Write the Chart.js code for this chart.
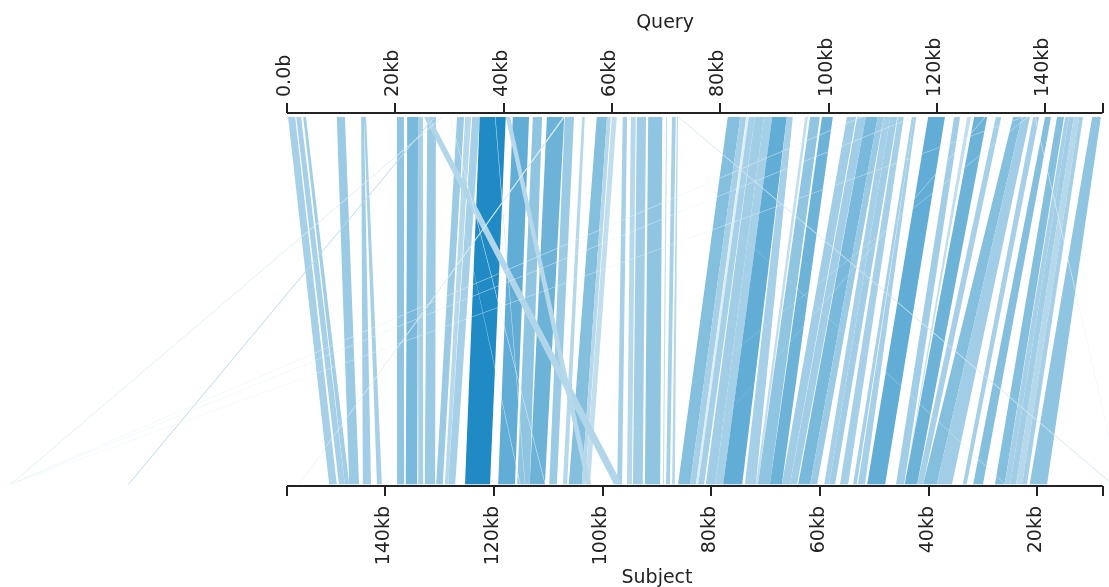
<!DOCTYPE html>
<html>
<head>
<meta charset="utf-8">
<title>Query vs Subject</title>
<script src="https://cdn.jsdelivr.net/npm/chart.js@4"></script>
<style>
  html, body { margin: 0; padding: 0; background: #fff; }
  canvas { display: block; }
</style>
</head>
<body>
<canvas id="chart" width="1109" height="587"></canvas>
<script>
// alignment blocks, all in kb
const queryStart = [
  0.2, 1.7, 3.0, 9.2, 13.7, 14.2, 20.3, 22.2, 24.2, 25.9,
  31.4, 32.9, 34.2, 35.6, 41.7, 45.4, 48.0, 51.3, 54.5, 57.2,
  59.1, 60.0, 62.0, 63.5, 64.6, 66.7, 70.0, 71.1, 72.0, 81.4,
  83.7, 84.9, 85.3, 86.4, 88.1, 89.6, 92.3, 95.7, 96.6, 98.8,
  103.4, 105.3, 106.9, 109.1, 110.2, 111.4, 112.8, 115.4, 115.8, 118.4,
  123.2, 125.6, 126.9, 130.9, 134.1, 135.7, 137.8, 140.0, 142.2, 143.7,
  144.4, 145.3, 146.3, 148.7, 25.3, 40.4, 28.6, 27.1, 106.0, 115.6,
  135.9, 51.0, 72.2, 62.8, 104.0, 138.1, 136.8, 60.6, 28.3, 30.1,
  38.4, 128.9
];
const queryEnd = [
  1.5, 2.6, 3.5, 10.7, 14.2, 14.6, 21.6, 24.2, 25.1, 27.5,
  32.7, 34.0, 35.6, 40.4, 44.7, 47.1, 51.2, 53.0, 55.0, 59.1,
  59.8, 60.9, 62.8, 64.4, 66.3, 69.3, 70.2, 71.8, 72.2, 83.7,
  84.8, 85.3, 86.4, 88.1, 89.6, 92.3, 93.4, 96.2, 98.4, 100.8,
  105.1, 106.9, 109.1, 110.2, 111.4, 112.7, 113.9, 115.8, 116.2, 121.5,
  124.3, 126.3, 129.3, 131.9, 135.7, 137.2, 138.9, 141.1, 143.5, 144.4,
  145.3, 146.3, 147.0, 150.3, 26.4, 41.2, 28.8, 27.3, 106.2, 115.8,
  136.1, 51.3, 72.4, 62.9, 104.1, 138.2, 136.9, 60.7, 28.4, 30.2,
  38.5, 129.0
];
const subjectStart = [
  150.3, 148.5, 147.4, 146.6, 144.1, 141.5, 137.8, 136.2, 133.9, 132.7,
  130.6, 129.0, 128.4, 125.3, 119.2, 115.7, 113.4, 109.8, 107.3, 106.2,
  103.8, 103.2, 97.3, 95.5, 94.4, 92.2, 88.9, 88.3, 87.2, 86.1,
  83.9, 82.8, 82.4, 81.0, 79.3, 77.8, 73.8, 71.8, 71.4, 69.2,
  67.0, 65.5, 64.0, 61.8, 59.2, 58.3, 56.3, 53.9, 53.0, 51.3,
  46.0, 44.5, 44.4, 42.1, 41.0, 38.5, 33.7, 31.8, 27.8, 26.0,
  25.0, 23.9, 22.8, 21.4, 97.9, 103.0, 209.0, 187.3, 209.0, 209.0,
  209.0, 155.9, 6.3, 33.3, 4.4, 4.8, 106.7, 26.0, 115.2, 110.6,
  114.3, 88.3
];
const subjectEnd = [
  148.9, 147.4, 146.6, 144.8, 142.6, 140.6, 136.5, 134.1, 133.0, 130.8,
  129.4, 128.4, 127.1, 120.7, 116.1, 113.4, 110.6, 108.4, 106.5, 103.8,
  103.2, 102.3, 96.4, 94.6, 92.6, 89.4, 88.7, 87.6, 86.7, 83.9,
  82.8, 82.4, 81.3, 79.3, 77.8, 74.3, 71.8, 71.4, 69.2, 67.0,
  65.5, 64.2, 61.8, 60.5, 58.3, 57.2, 54.8, 53.2, 51.7, 48.0,
  44.5, 44.4, 42.1, 41.0, 38.5, 35.7, 33.0, 30.0, 26.0, 25.0,
  23.9, 22.8, 21.9, 18.2, 96.4, 102.1, 208.8, 187.1, 208.8, 208.8,
  208.8, 155.8, 6.1, 33.2, 4.3, 4.7, 106.6, 25.9, 115.1, 110.5,
  114.2, 88.2
];
// relative match strength of each block, 1 is the darkest
const identity = [
  0.4, 0.4, 0.42, 0.45, 0.42, 0.4, 0.5, 0.6, 0.4, 0.45,
  0.45, 0.33, 0.4, 1, 0.7, 0.5, 0.65, 0.45, 0.33, 0.55,
  0.33, 0.28, 0.4, 0.33, 0.42, 0.5, 0.28, 0.4, 0.33, 0.55,
  0.4, 0.15, 0.4, 0.42, 0.4, 0.7, 0.4, 0.28, 0.5, 0.65,
  0.42, 0.42, 0.6, 0.45, 0.4, 0.42, 0.4, 0.4, 0.4, 0.7,
  0.42, 0.28, 0.65, 0.4, 0.55, 0.42, 0.4, 0.55, 0.55, 0.4,
  0.42, 0.33, 0.4, 0.5, 0.35, 0.33, 0.15, 0.3, 0.12, 0.12,
  0.12, 0.15, 0.2, 0.2, 0.15, 0.1, 0.12, 0.2, 0.15, 0.15,
  0.25, 0.12
];

const queryTicks = [0, 20, 40, 60, 80, 100, 120, 140, 150.6];
const queryLabels = ["0.0b", "20kb", "40kb", "60kb", "80kb", "100kb", "120kb", "140kb", ""];
const subjectTicks = [158.05, 140, 120, 100, 80, 60, 40, 20, 7.97];
const subjectLabels = ["", "140kb", "120kb", "100kb", "80kb", "60kb", "40kb", "20kb", ""];

// the ribbons run past both ends of the axes, so the scales cover the whole canvas
const queryMin = -53, queryMax = 151.8;
const subjectMin = 6.81, subjectMax = 210.86;
const ribbonTop = 0.989, ribbonBottom = 0.005;

const fontFamily = "'DejaVu Sans', Verdana, sans-serif";
const axisColor = "#222";

// the reversed subject axis spans the same pixels, ribbons are all plotted on the query axis
function subjectToQuery(s) {
  return queryMin + (subjectMax - s) / (subjectMax - subjectMin) * (queryMax - queryMin);
}

function ribbonColor(t) {
  const r = Math.round(255 - (255 - 31) * t);
  const g = Math.round(255 - (255 - 138) * t);
  const b = Math.round(255 - (255 - 195) * t);
  return `rgb(${r},${g},${b})`;
}

const ribbons = queryStart.map((q, i) => ({
  type: "line",
  data: [
    { x: q, y: ribbonTop },
    { x: queryEnd[i], y: ribbonTop },
    { x: subjectToQuery(subjectEnd[i]), y: ribbonBottom },
    { x: subjectToQuery(subjectStart[i]), y: ribbonBottom }
  ],
  backgroundColor: ribbonColor(identity[i]),
  borderWidth: 0,
  pointRadius: 0,
  fill: "shape",
  clip: false
}));

function domainLine(a, b, y) {
  return {
    type: "line",
    data: [{ x: a, y: y }, { x: b, y: y }],
    borderColor: axisColor,
    borderWidth: 2,
    pointRadius: 0,
    fill: false,
    clip: false
  };
}

const axisLines = [
  domainLine(queryTicks[0], queryTicks[queryTicks.length - 1], 1),
  domainLine(subjectToQuery(subjectTicks[0]), subjectToQuery(subjectTicks[subjectTicks.length - 1]), 0)
];

// axis names sit off-centre in the reference, so they are placed here
const axisNames = {
  id: "axisNames",
  afterDraw(chart) {
    const { ctx } = chart;
    ctx.save();
    ctx.fillStyle = axisColor;
    ctx.font = "19px " + fontFamily;
    ctx.textAlign = "center";
    ctx.textBaseline = "middle";
    ctx.fillText("Query", 665, 23);
    ctx.fillText("Subject", 657, 578);
    ctx.restore();
  }
};

function tickOptions(labels, offset, padding) {
  return {
    autoSkip: false,
    minRotation: 90,
    maxRotation: 90,
    padding: padding,
    labelOffset: offset,
    color: axisColor,
    font: { family: fontFamily, size: 19 },
    callback: (value, index) => labels[index]
  };
}

const gridOptions = {
  drawOnChartArea: false,
  drawTicks: true,
  tickLength: 10,
  tickColor: axisColor,
  lineWidth: 2
};

new Chart(document.getElementById("chart"), {
  type: "line",
  // first dataset is painted last in Chart.js
  data: { datasets: axisLines.concat(ribbons.slice().reverse()) },
  plugins: [axisNames],
  options: {
    responsive: false,
    animation: false,
    devicePixelRatio: 1,
    layout: { padding: 0 },
    plugins: { legend: { display: false }, tooltip: { enabled: false } },
    scales: {
      x: {
        type: "linear",
        position: "top",
        min: queryMin,
        max: queryMax,
        border: { display: false },
        grid: gridOptions,
        ticks: tickOptions(queryLabels, 21, 6),
        afterBuildTicks: axis => { axis.ticks = queryTicks.map(v => ({ value: v })); },
        afterFit: axis => { axis.height = 113; axis.paddingLeft = 0; axis.paddingRight = 0; }
      },
      subject: {
        type: "linear",
        position: "bottom",
        axis: "x",
        reverse: true,
        min: subjectMin,
        max: subjectMax,
        border: { display: false },
        grid: gridOptions,
        ticks: tickOptions(subjectLabels, -1, 10),
        afterBuildTicks: axis => { axis.ticks = subjectTicks.map(v => ({ value: v })); },
        afterFit: axis => { axis.height = 101; axis.paddingLeft = 0; axis.paddingRight = 0; }
      },
      y: { type: "linear", display: false, min: 0, max: 1 }
    }
  }
});
</script>
</body>
</html>
